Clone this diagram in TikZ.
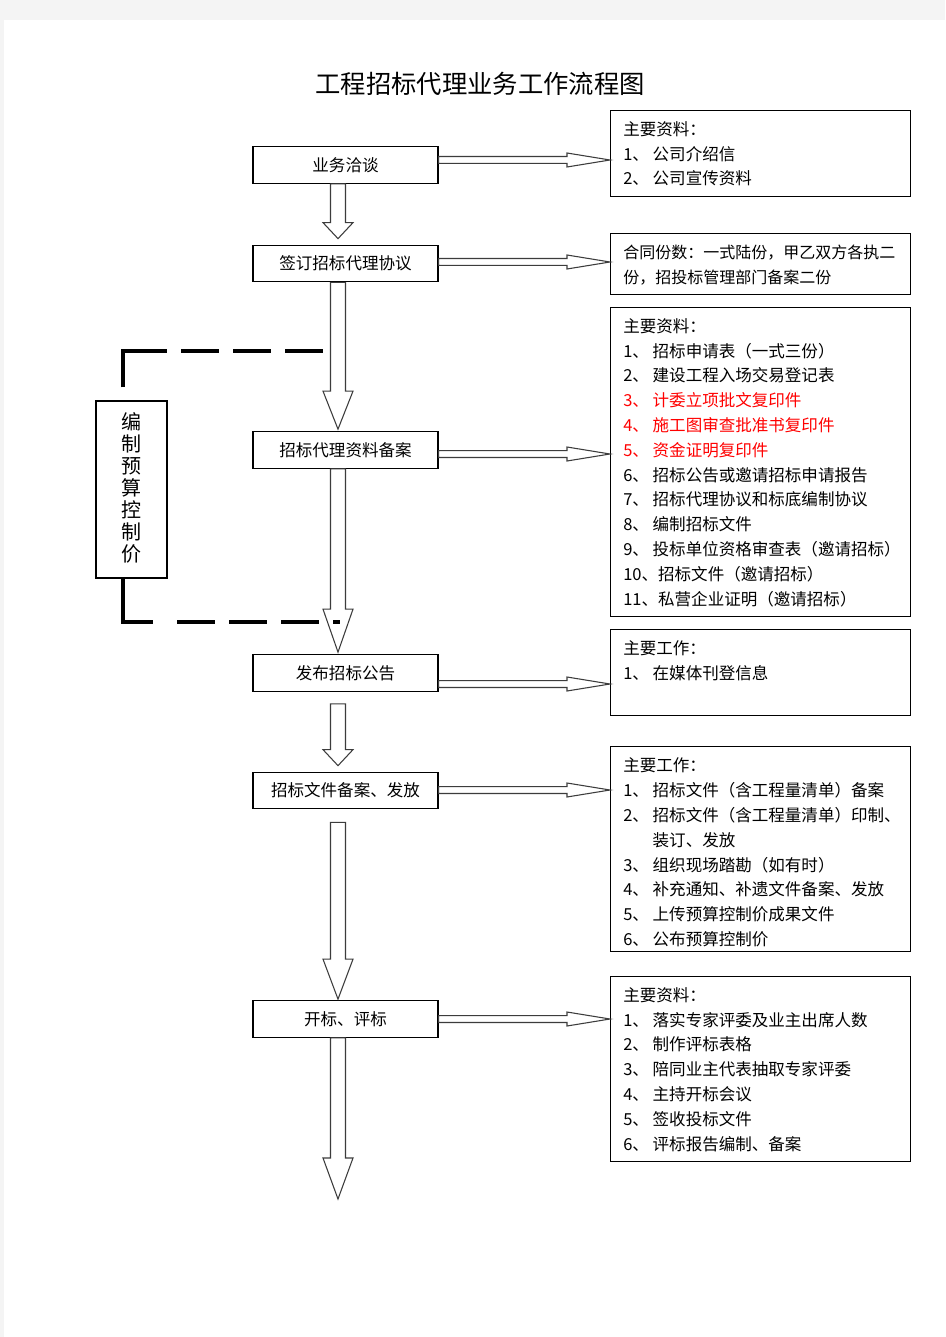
\documentclass[tikz,border=0pt]{standalone}
\usepackage{fontspec}
\setmainfont{Noto Sans CJK SC}
\usetikzlibrary{calc}
\usetikzlibrary{positioning}

\definecolor{pagegray}{HTML}{F4F4F4}
\definecolor{arrowline}{HTML}{3C3C3C}

\tikzset{
    stepbox/.style={draw,line width=0.9pt,fill=white,minimum width=138.75pt,minimum height=27.4pt,inner sep=0pt,font=\fontsize{12.4}{14}\selectfont},
    infobox/.style={draw,line width=1pt,minimum width=225pt,anchor=north west,inner sep=0pt},
    infotext/.style={anchor=north west,inner sep=0pt,align=left,font=\fontsize{12.4}{18.6}\selectfont},
    blockarrow/.style={draw=arrowline,line width=0.8pt,fill=white},
    bracket/.style={line width=3pt},
    bracketdash/.style={line width=3pt,dash pattern=on 28.5pt off 10.5pt}
}

\begin{document}
\begin{tikzpicture}[x=0.75pt,y=-0.75pt]
    
    % page with a grey edge
    \fill[pagegray] (0,0) rectangle (945,1337);
    \fill[white] (4,20) rectangle (945,1337);
    \useasboundingbox (0,0) rectangle (945,1337);
    
    \node (title) at (480,84) {\fontsize{19}{21}\selectfont 工程招标代理业务工作流程图};
    
    % main steps
    \node[stepbox] (talk) at (345.5,165) {业务洽谈};
    \node[stepbox] (sign) at (345.5,263.5) {签订招标代理协议};
    \node[stepbox] (file) at (345.5,450) {招标代理资料备案};
    \node[stepbox] (notice) at (345.5,673) {发布招标公告};
    \node[stepbox] (docs) at (345.5,790.5) {招标文件备案、发放};
    \node[stepbox] (open) at (345.5,1019) {开标、评标};
    \coordinate (flowend) at (345.5,1199);
    
    \node[draw,line width=0.9pt,minimum width=53.25pt,minimum height=132.75pt,inner sep=0pt,align=center,font=\fontsize{15}{16.5}\selectfont] (budget) at (131.5,489.5) {\raisebox{3pt}{编}\\\raisebox{3pt}{制}\\\raisebox{3pt}{预}\\\raisebox{3pt}{算}\\\raisebox{3pt}{控}\\\raisebox{3pt}{制}\\\raisebox{3pt}{价}};
    
    % boxes on the right
    \node[infobox,minimum height=64.5pt] (need1) at (610,110) {};
    \node[infobox,minimum height=45.75pt] (need2) at (610,233) {};
    \node[infobox,minimum height=231.75pt] (need3) at (610,307) {};
    \node[infobox,minimum height=64.5pt] (need4) at (610,629) {};
    \node[infobox,minimum height=153.75pt] (need5) at (610,746) {};
    \node[infobox,minimum height=138.75pt] (need6) at (610,976) {};
    
    \node[infotext] (list1) at (623,117.7) {\rule{0pt}{13pt}主要资料：\\
        1、 公司介绍信\\
        2、 公司宣传资料};
    \node[infotext,font=\fontsize{12}{18.6}\selectfont] (list2) at (623,240.7) {\rule{0pt}{13pt}合同份数：一式陆份，甲乙双方各执二\\
        份，招投标管理部门备案二份};
    \node[infotext] (list3) at (623,314.7) {\rule{0pt}{13pt}主要资料：\\
        1、 招标申请表（一式三份）\\
        2、 建设工程入场交易登记表\\
        \textcolor{red}{3、 计委立项批文复印件}\\
        \textcolor{red}{4、 施工图审查批准书复印件}\\
        \textcolor{red}{5、 资金证明复印件}\\
        6、 招标公告或邀请招标申请报告\\
        7、 招标代理协议和标底编制协议\\
        8、 编制招标文件\\
        9、 投标单位资格审查表（邀请招标）\\
        10、招标文件（邀请招标）\\
        11、私营企业证明（邀请招标）};
    \node[infotext] (list4) at (623,636.7) {\rule{0pt}{13pt}主要工作：\\
        1、 在媒体刊登信息};
    \node[infotext] (list5) at (623,754.2) {\rule{0pt}{13pt}主要工作：\\
        1、 招标文件（含工程量清单）备案\\
        2、 招标文件（含工程量清单）印制、\\
        \phantom{2、~}装订、发放\\
        3、 组织现场踏勘（如有时）\\
        4、 补充通知、补遗文件备案、发放\\
        5、 上传预算控制价成果文件\\
        6、 公布预算控制价};
    \node[infotext] (list6) at (623,983.7) {\rule{0pt}{13pt}主要资料：\\
        1、 落实专家评委及业主出席人数\\
        2、 制作评标表格\\
        3、 陪同业主代表抽取专家评委\\
        4、 主持开标会议\\
        5、 签收投标文件\\
        6、 评标报告编制、备案};
    
    % hollow arrows down the flow
    \foreach \from/\to/\gap/\egap/\head in {talk/sign/0/6/16, sign/file/0/2/38, file/notice/0/2/43, notice/docs/12/6/16, docs/open/13/1/40, open/flowend/0/0/41}
        \draw[blockarrow] ($(\from.south)+(-15,\gap)$) -- ($(\from.south)+(0,\gap)$)
            -- ($(\to.north)+(0,-\egap-\head)$) -- ($(\to.north)+(7.5,-\egap-\head)$)
            -- ($(\to.north)+(-7.5,-\egap)$)
            -- ($(\to.north)+(-22.5,-\egap-\head)$) -- ($(\to.north)+(-15,-\egap-\head)$) -- cycle;
    
    % hollow arrows to the right
    \foreach \from/\to/\dy in {talk/need1/-5, sign/need2/-1.5, file/need3/4, notice/need4/11, docs/need5/-0.5, open/need6/0}
        \draw[blockarrow] let \p1=($(\from.east)+(0,\dy)$), \p2=(\to.west) in
            (\x1,\y1+2.6pt) -- (\x2-32.25pt,\y1+2.6pt) -- (\x2-32.25pt,\y1+5.25pt) -- (\x2,\y1)
            -- (\x2-32.25pt,\y1-5.25pt) -- (\x2-32.25pt,\y1-2.6pt) -- (\x1,\y1-2.6pt) -- cycle;
    
    % thick dashed loop round the budget box
    \draw[bracket] ($(budget.north)+(-8.5,-13)$) |- (167,351);
    \draw[bracketdash] (181,351) -- (323,351);
    \draw[bracket] ($(budget.south)+(-8.5,0)$) |- (153,622);
    \draw[bracketdash] (177,622) -- (340,622);
    
\end{tikzpicture}
\end{document}
